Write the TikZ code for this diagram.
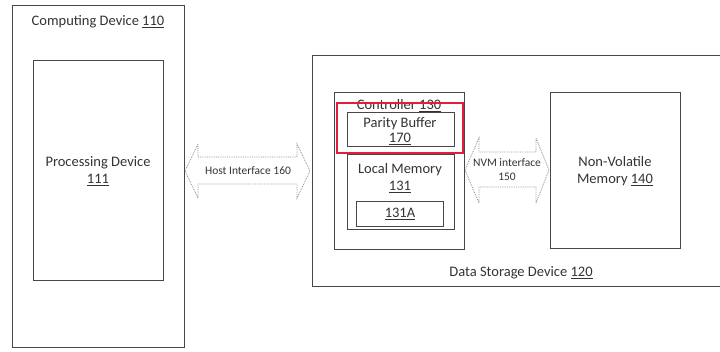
\documentclass[tikz,border=0pt]{standalone}
\usepackage{fontspec}
\setmainfont{Carlito}
\begin{document}
\begin{tikzpicture}[x=1pt,y=-1pt,
  box/.style={draw=black!72, line width=1pt},
  lbl/.style={text=black!80, font=\fontsize{14.5}{16}\selectfont, align=center, inner sep=0pt},
  slbl/.style={text=black!80, font=\fontsize{11.5}{13}\selectfont, align=center, inner sep=0pt},
  arr/.style={draw=black!45, line width=0.8pt, densely dotted}]
\useasboundingbox (0,0) rectangle (720,352);
% Computing device
\draw[box] (12,6) rectangle (184,348);
\node[lbl] (cdt) at (98,22) {Computing Device \underline{110}};
\draw[box] (33,61) rectangle (163,281);
\node[lbl] (pd) at (98,171) {Processing Device\\[1pt]\underline{111}};
% Data storage device
\draw[box] (725,56) -- (312,56) -- (312,287) -- (725,287);
\node[lbl] (dsd) at (521,273) {Data Storage Device \underline{120}};
% Controller
\draw[box] (334,93) rectangle (464,250);
\node[lbl] (ct) at (399,106) {Controller \underline{130}};
\draw[box] (347,113) rectangle (454,147);
\node[lbl] (pb) at (400,131) {Parity Buffer\\[-1pt]\underline{170}};
\draw[box] (347,155) rectangle (454,230);
\node[lbl] (lm) at (400,178) {Local Memory\\[1pt]\underline{131}};
\draw[box] (356,202) rectangle (443,227);
\node[lbl] (lma) at (400,214) {\underline{131A}};
\draw[draw={rgb,255:red,225;green,30;blue,60}, line width=1.6pt] (337,103) rectangle (463,153);
% Non-volatile memory
\draw[box] (550,93) rectangle (680,249);
\node[lbl] (nvm) at (615,171) {Non-Volatile\\[1pt]Memory \underline{140}};
% Host interface arrow
\draw[arr] (185,171) -- (198,144) -- (198,157) -- (297,157) -- (297,144) -- (310,171)
  -- (297,198) -- (297,184) -- (198,184) -- (198,198) -- cycle;
\node[slbl] (hi) at (248,171) {Host Interface 160};
% NVM interface arrow
\draw[arr] (465,170) -- (479,138) -- (479,152) -- (536,152) -- (536,138) -- (549,170)
  -- (536,203) -- (536,187) -- (479,187) -- (479,203) -- cycle;
\node[slbl] (nvi) at (507,170) {NVM interface\\[1pt]150};
\end{tikzpicture}
\end{document}
